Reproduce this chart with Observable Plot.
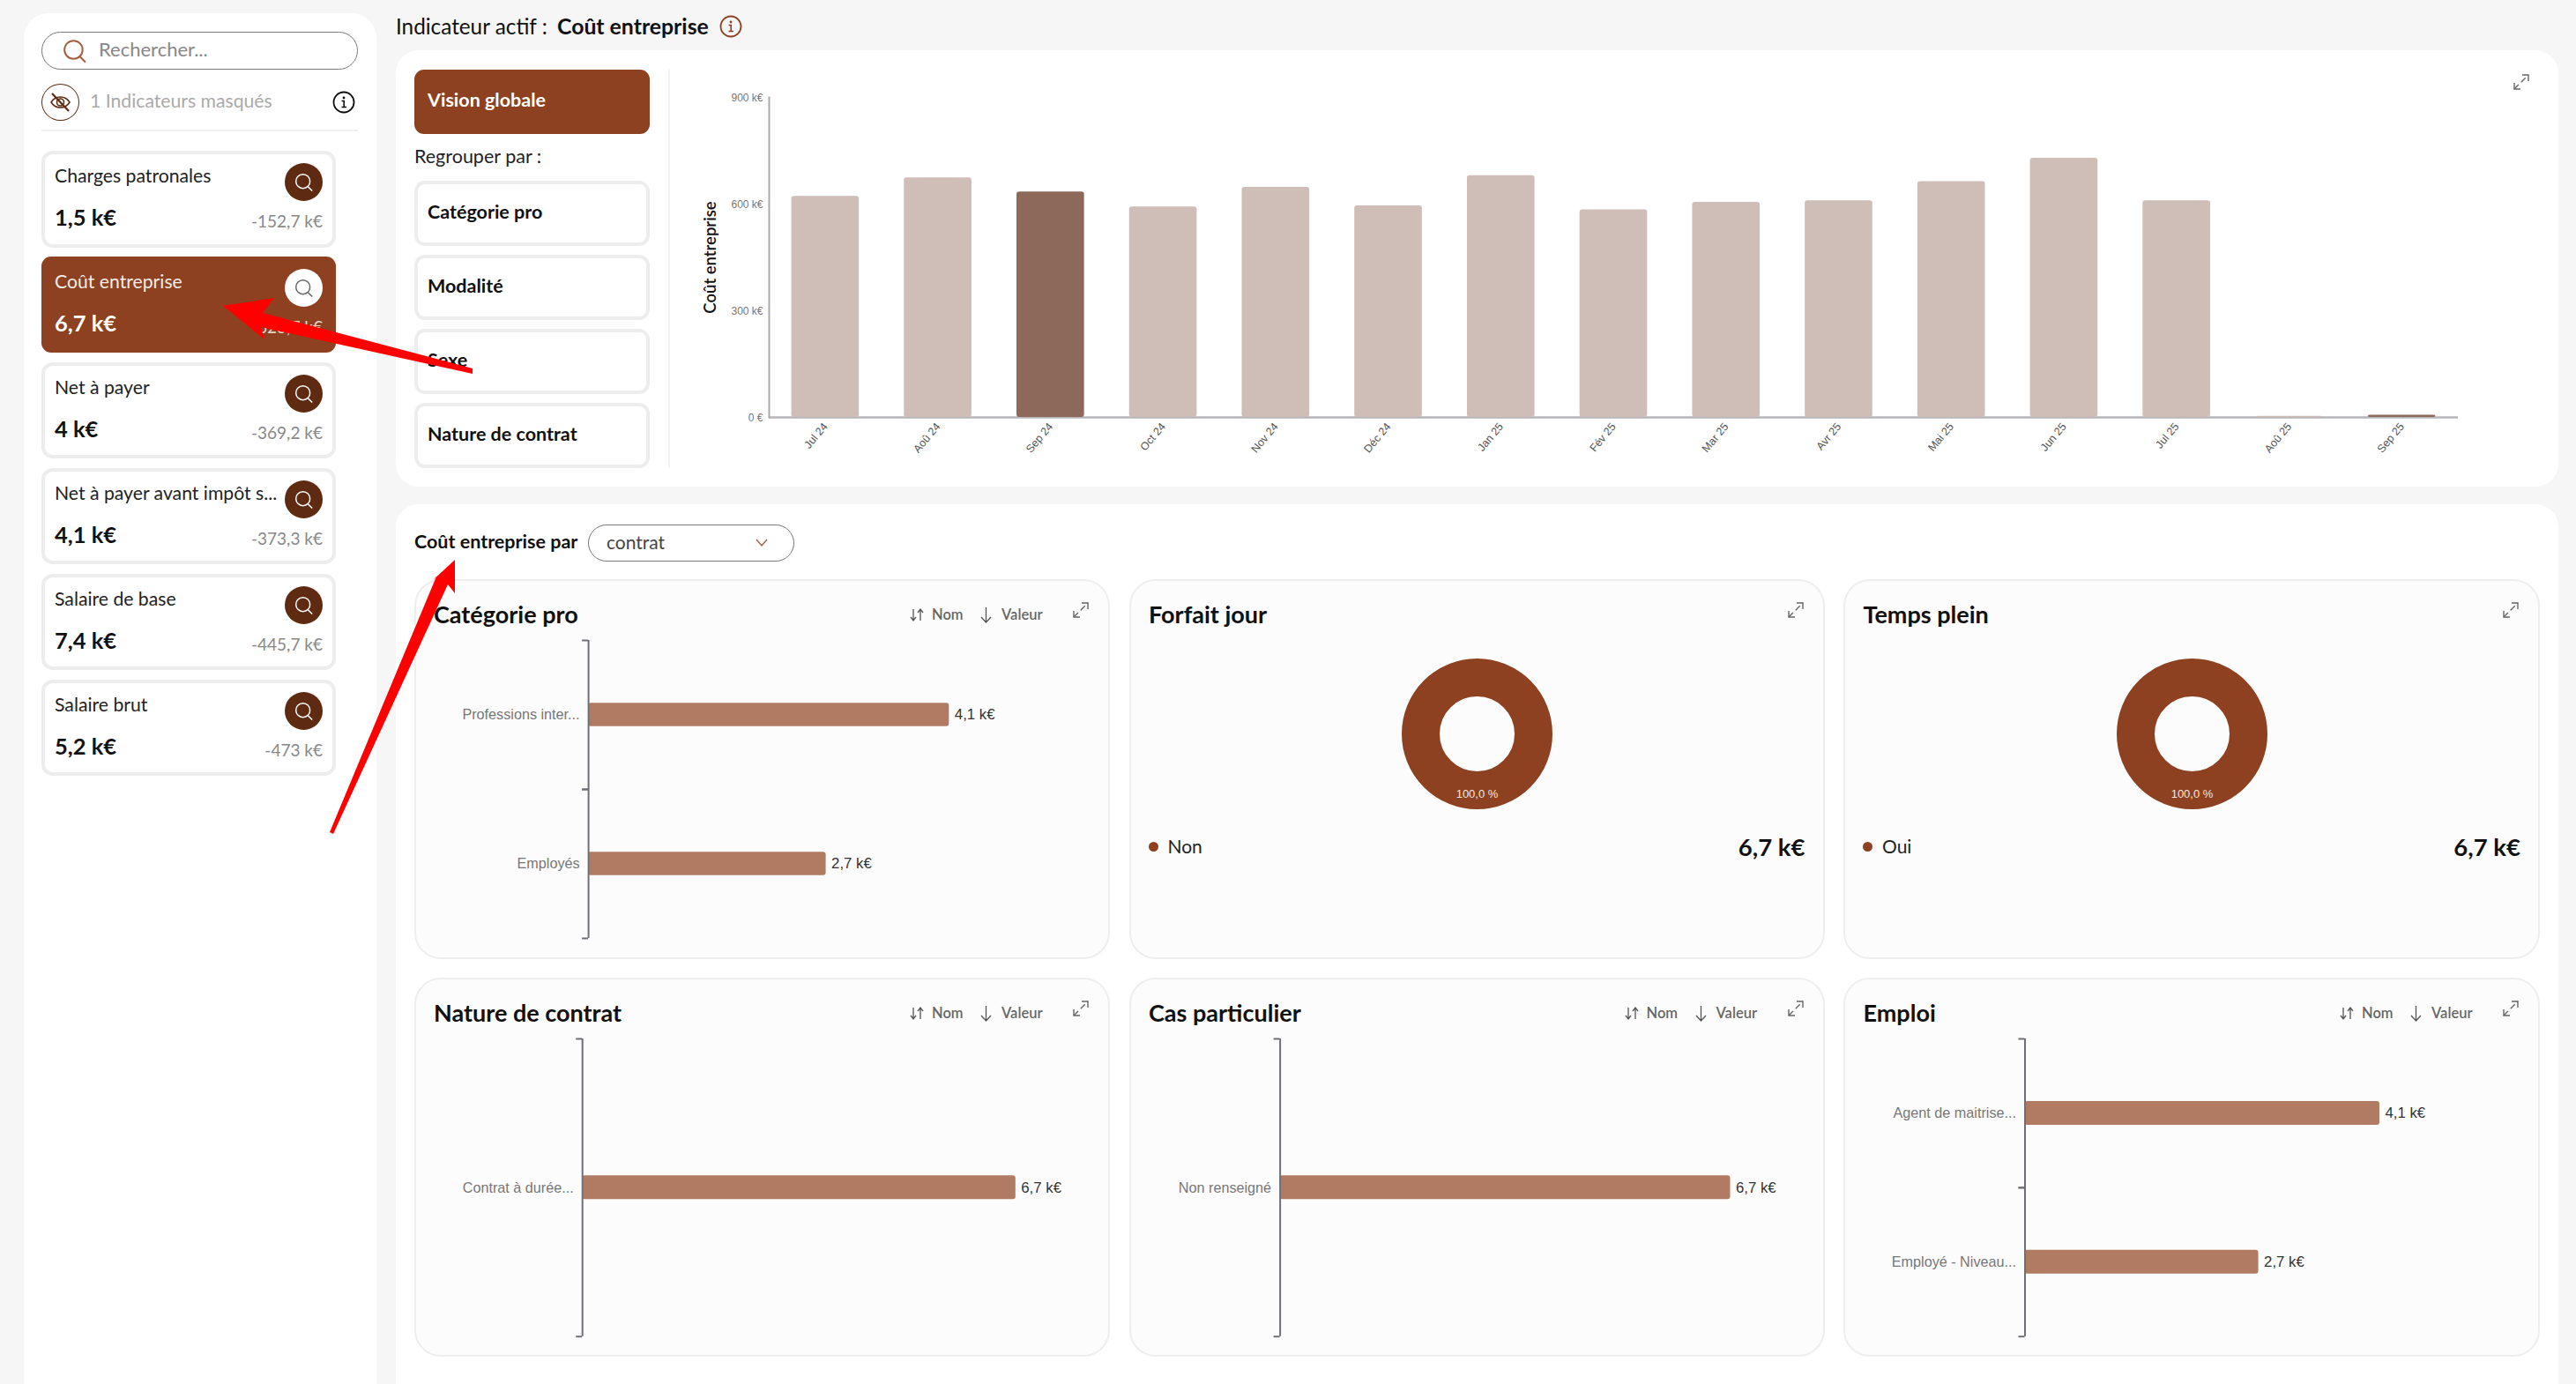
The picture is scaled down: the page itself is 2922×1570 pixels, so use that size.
<!DOCTYPE html>
<html lang="fr">
<head>
<meta charset="utf-8">
<script src="https://cdn.jsdelivr.net/npm/d3@7"></script>
<script src="https://cdn.jsdelivr.net/npm/@observablehq/plot@0.6"></script>
<style>
html,body{margin:0;padding:0;background:#f6f6f6;width:2922px;height:1570px;overflow:hidden;font-family:Lato,sans-serif;color:#111}
#root{position:relative;width:2922px;height:1570px;overflow:hidden}
svg{overflow:visible}
</style>
</head>
<body>
<div id="root"></div>
<script>
// ---- data ----
const monthLabels = ["Jul 24","Aoû 24","Sep 24","Oct 24","Nov 24","Déc 24","Jan 25","Fév 25","Mar 25","Avr 25","Mai 25","Jun 25","Jul 25","Aoû 25","Sep 25"];
const monthValues = [622,674,634,592,647,595,680,584,605,609,663,729,609,3,6];
const highlightedMonths = ["Sep 24","Sep 25"];
const indicatorNames = ["Charges patronales","Coût entreprise","Net à payer","Net à payer avant impôt s...","Salaire de base","Salaire brut"];
const indicatorValues = ["1,5 k€","6,7 k€","4 k€","4,1 k€","7,4 k€","5,2 k€"];
const indicatorDeltas = ["-152,7 k€","623,7 k€","-369,2 k€","-373,3 k€","-445,7 k€","-473 k€"];
const groupByLabels = ["Catégorie pro","Modalité","Sexe","Nature de contrat"];
const categoriePro = ["Professions inter...","Employés"], categorieProValues = [4.1,2.7];
const natureContrat = ["Contrat à durée..."], natureContratValues = [6.7];
const casParticulier = ["Non renseigné"], casParticulierValues = [6.7];
const emploi = ["Agent de maitrise...","Employé - Niveau..."], emploiValues = [4.1,2.7];
const forfaitJour = ["Non"], forfaitJourShare = [100], forfaitJourAmount = "6,7 k€";
const tempsPlein = ["Oui"], tempsPleinShare = [100], tempsPleinAmount = "6,7 k€";

// ---- colours ----
const BROWN="#8d4120", DARK="#5e2a12", BAR="#b07b62", LIGHT="#cfbeb7", MID="#8d6959";
const root=document.getElementById("root");
const box=(x,y,w,h,css,html="")=>{const d=document.createElement("div");
  d.style.cssText=`position:absolute;left:${x}px;top:${y}px;width:${w}px;height:${h}px;box-sizing:border-box;${css}`;
  d.innerHTML=html;root.append(d);return d;};
const label=(x,yc,txt,css="",right=false)=>{const d=document.createElement("div");
  d.style.cssText=`position:absolute;left:${x}px;top:${yc}px;white-space:nowrap;transform:translate(${right?"-100%":"0"},-50%);line-height:1.2;${css}`;
  d.textContent=txt;root.append(d);return d;};
const place=(node,x,y)=>{const d=document.createElement("div");d.style.cssText=`position:absolute;left:${x}px;top:${y}px;line-height:0`;d.append(node);root.append(d);};
const svgIcon=(x,y,w,h,inner)=>box(x,y,w,h,"line-height:0",`<svg width="${w}" height="${h}" viewBox="0 0 ${w} ${h}" fill="none">${inner}</svg>`);
const searchIcon=(x,y,s,c,sw=1.5)=>svgIcon(x,y,s,s,`<circle cx="${s*.46}" cy="${s*.46}" r="${s*.38}" stroke="${c}" stroke-width="${sw}"/><line x1="${s*.72}" y1="${s*.74}" x2="${s*.96}" y2="${s*.98}" stroke="${c}" stroke-width="${sw}"/>`);
const expandIcon=(x,y)=>svgIcon(x,y,20,20,`<g stroke="#666" stroke-width="1.4"><line x1="2" y1="18" x2="18" y2="2"  stroke-dasharray="7 4"/><polyline points="11,2 18,2 18,9"/><polyline points="2,11 2,18 9,18"/></g>`);
const infoIcon=(cx,cy,c)=>svgIcon(cx-13,cy-13,26,26,`<circle cx="13" cy="13" r="11.5" stroke="${c}" stroke-width="1.8"/><circle cx="13" cy="8" r="1.4" fill="${c}"/><path d="M10.5 11.5h2.7v7M10.5 18.5h5.5" stroke="${c}" stroke-width="1.6"/>`);

// ---- panels ----
box(27,15,400,1600,"background:#fff;border-radius:28px");
box(449,57,2453,495,"background:#fff;border-radius:26px");
box(449,572,2453,1040,"background:#fff;border-radius:26px");

// ---- sidebar ----
box(47,36,359,43,"border:1.5px solid #777;border-radius:22px");
searchIcon(71,44,27,"#a65f3e",2);
label(112,56,"Rechercher...","font-size:22px;color:#888");
box(47,95,43,42,`border:1.5px solid ${DARK};border-radius:50%`);
svgIcon(55,103,27,26,`<path d="M3 13 C8 5 19 5 24 13 C19 21 8 21 3 13Z" stroke="${DARK}" stroke-width="1.6"/><circle cx="13.5" cy="13" r="4" stroke="${DARK}" stroke-width="1.6"/><line x1="4" y1="3" x2="23" y2="23" stroke="${DARK}" stroke-width="2.2"/>`);
label(102,115,"1 Indicateurs masqués","font-size:21.2px;color:#aaa");
infoIcon(390,116,"#111");
box(47,147,359,2,"background:#f1f1f1");
indicatorNames.forEach((name,i)=>{
  const top=171+i*119.9, active=i===1;
  box(47,top,334,i===1?109:109.5,active?`background:${BROWN};border-radius:11px`:"background:#fff;border:4px solid #ededed;border-radius:13px");
  label(62,top+29.2,name,`font-size:21.2px;color:${active?"#f4ece8":"#222"}`);
  label(62,top+75,indicatorValues[i],`font-size:25.5px;font-weight:700;color:${active?"#fff":"#111"}`);
  label(366,top+80,indicatorDeltas[i],`font-size:19px;color:${active?"#e6d5cc":"#888"}`,true);
  box(323,top+14,43,43,`border-radius:50%;background:${active?"#fff":DARK}`);
  searchIcon(334,top+25,21,active?"#666":"#fff",1.5);
});

// ---- top panel ----
label(449,30,"Indicateur actif :","font-size:24.3px;color:#111");
label(632,30,"Coût entreprise","font-size:24.8px;font-weight:700;color:#111");
infoIcon(829,30,BROWN);
box(470,79,267,73,`background:${BROWN};border-radius:11px`);
label(485,113.5,"Vision globale","font-size:21.5px;font-weight:700;color:#fff");
label(470,178,"Regrouper par :","font-size:21.5px;color:#222");
[205,289,373,457].forEach((top,i)=>{
  box(470,top,267,74,"background:#fff;border:4px solid #ededed;border-radius:12px");
  label(485,top+35.5,groupByLabels[i],"font-size:21.5px;font-weight:700;color:#111");
});
box(758,79,2,452,"background:#f3f3f3");
expandIcon(2850,83);

const monthData=monthLabels.map((month,i)=>({month,value:monthValues[i],state:highlightedMonths.includes(month)?"sel":"base"}));
const AXIS_FONT="Liberation Sans, Arial, sans-serif";
place(Plot.plot({
  width:2060,height:450,marginLeft:112,marginRight:32,marginTop:20,marginBottom:67,
  style:{background:"transparent",fontFamily:AXIS_FONT,overflow:"visible"},
  x:{domain:monthLabels,paddingInner:.4,paddingOuter:.2,round:false},
  y:{domain:[0,900]},
  color:{domain:["base","sel"],range:[LIGHT,MID]},
  marks:[
    Plot.ruleY([0],{stroke:"#b6b6ba",strokeWidth:2.6}),
    Plot.frame({anchor:"left",stroke:"#aaa",strokeWidth:2}),
    Plot.barY(monthData,{x:"month",y:"value",fill:"state",rx:3}),
    Plot.axisX({label:null,tickSize:0,tickPadding:8,tickRotate:-50,fontSize:12.5,color:"#555"}),
    Plot.axisY({ticks:[0,300,600,900],tickSize:0,tickPadding:7,fontSize:12,color:"#777",label:null,dy:1,tickFormat:d=>d===0?"0 €":d+" k€"}),
    Plot.axisY({ticks:[],label:"Coût entreprise",labelAnchor:"center",labelArrow:"none",labelOffset:74,fontSize:18.5,fontWeight:600,color:"#111",fontFamily:"Lato"})
  ]
}),760,90);

// ---- lower panel ----
label(470,615,"Coût entreprise par","font-size:21.5px;font-weight:700;color:#111");
box(667,595,234,42,"border:1.5px solid #777;border-radius:21px");
label(688,615,"contrat","font-size:21px;color:#444");
svgIcon(857,611,14,9,`<polyline points="1,1 7,8 13,1" stroke="#a65f3e" stroke-width="1.4"/>`);

const fmt=v=>v.toFixed(1).replace(".",",")+" k€";
const colsX=[469.5,1280.5,2091], colsW=[789.5,789,790], rowsY=[656.5,1108.5], cardH=[431.5,430.5];
function card(col,row,title,sortable){
  const x=colsX[col], y=rowsY[row], w=colsW[col], r=x+w;
  box(x,y,w,cardH[row],"background:#fcfcfc;border:2px solid #eee;border-radius:30px");
  label(x+22.5,y+40,title,"font-size:27px;font-weight:700;color:#111");
  expandIcon(r-43,y+25);
  if(sortable){
    svgIcon(r-228,y+31,18,18,`<g stroke="#555" stroke-width="1.3" fill="none"><path d="M5 3v13M2 12l3 4 3-4"/><path d="M13 16V3M10 7l3-4 3 4"/></g>`);
    label(r-202,y+41,"Nom","font-size:16.5px;font-weight:600;color:#666");
    svgIcon(r-149,y+31,17,19,`<g stroke="#555" stroke-width="1.3" fill="none"><path d="M8.5 1v17M3 12l5.5 6 5.5-6"/></g>`);
    label(r-123,y+41,"Valeur","font-size:16.5px;font-weight:600;color:#666");
  }
}
function hbar(col,row,title,cats,vals,axisX,barEnd,axisTop,axisBottom,barH){
  card(col,row,title,true);
  const data=cats.map((c,i)=>({cat:c,value:vals[i],text:fmt(vals[i])}));
  const w=colsW[col]-12, left=colsX[col]+6, top=axisTop-20, h=axisBottom-axisTop+40;
  const ml=axisX-left, pw=barEnd-axisX, H=axisBottom-axisTop, step=H/cats.length, p=1-barH/step;
  place(Plot.plot({
    width:w,height:h,marginLeft:ml,marginRight:w-ml-pw,marginTop:20,marginBottom:20,
    style:{background:"transparent",fontFamily:AXIS_FONT,overflow:"visible"},
    x:{domain:[0,d3.max(vals)],axis:null},
    y:{domain:cats,paddingInner:p,paddingOuter:p/2,round:false},
    marks:[
      Plot.barX(data,{x:"value",y:"cat",fill:BAR,rx:3}),
      Plot.ruleX([0],{stroke:"#6f6f78",strokeWidth:2}),
      Plot.axisY({tickSize:0,tickPadding:10,fontSize:16.2,color:"#777",label:null}),
      Plot.axisY({tickSize:7,tickFormat:null,label:null,stroke:"#6f6f78",strokeWidth:2,dy:-step/2}),
      Plot.axisY({tickSize:7,tickFormat:null,label:null,stroke:"#6f6f78",strokeWidth:2,dy:step/2}),
      Plot.text(data,{x:"value",y:"cat",text:"text",dx:6,textAnchor:"start",fontSize:16.8,fill:"#333"})
    ]
  }),left,top);
}
function donut(col,row,title,names,shares,amount){
  card(col,row,title,false);
  const x=colsX[col], y=rowsY[row], w=colsW[col], cx=x+w/2, cy=y+175;
  const data=names.map((name,i)=>({name,share:shares[i]}));
  place(Plot.plot({
    width:200,height:200,margin:0,
    style:{background:"transparent",fontFamily:AXIS_FONT,overflow:"visible"},
    color:{domain:names,range:[BROWN]},
    marks:[
      Plot.dot(data,{frameAnchor:"middle",r:64,stroke:"name",strokeWidth:43,fill:"none"}),
      Plot.text(data,{frameAnchor:"middle",dy:68,text:d=>d.share.toFixed(1).replace(".",",")+" %",fontSize:13,fill:"#f3e6df"})
    ]
  }),cx-100,cy-100);
  box(x+22,y+298,11,11,`border-radius:50%;background:${BROWN}`);
  label(x+44,y+303,names[0],"font-size:21px;color:#222");
  label(x+w-22,y+303,amount,"font-size:27.5px;font-weight:700;color:#111",true);
}
hbar(0,0,"Catégorie pro",categoriePro,categorieProValues,666.6,1075.8,726,1064,26.6);
donut(1,0,"Forfait jour",forfaitJour,forfaitJourShare,forfaitJourAmount);
donut(2,0,"Temps plein",tempsPlein,tempsPleinShare,tempsPleinAmount);
hbar(0,1,"Nature de contrat",natureContrat,natureContratValues,659.7,1151.3,1178,1515.7,27);
hbar(1,1,"Cas particulier",casParticulier,casParticulierValues,1451.1,1962,1178,1515.7,27);
hbar(2,1,"Emploi",emploi,emploiValues,2296.5,2699,1178,1515.7,27);

// ---- red annotation arrows drawn over the screenshot ----
box(0,0,2922,1570,"z-index:5;pointer-events:none;line-height:0",
`<svg width="2922" height="1570" fill="#ff0000">
  <polygon points="253,347 311,338 298,355 536,418 536,424 296,371 300,385"/>
  <polygon points="516,635 516,673 508,663 378,946 374,944 495,654 488,661"/>
</svg>`);
</script>
</body>
</html>
